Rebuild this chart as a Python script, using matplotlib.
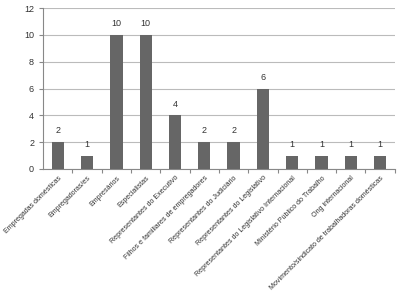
import matplotlib
matplotlib.use('Agg')
import matplotlib.pyplot as plt

plt.rcParams['font.family'] = ['Liberation Sans', 'DejaVu Sans']

# Categories and counts
categories = ['Empregadas domésticas', 'Empregadoras/es', 'Empresários', 'Especialistas',
              'Representantes do Executivo', 'Filhos e familiares de empregadores',
              'Representantes do Judiciário', 'Representantes do Legislativo',
              'Representantes do Legislativo Internacional', 'Ministério Público do Trabalho',
              'Ong internacional', 'Movimento/sindicato de trabalhadoras domésticas']
counts = [2, 1, 10, 10, 4, 2, 2, 6, 1, 1, 1, 1]

fig = plt.figure(figsize=(4.07, 2.99), dpi=100)
ax = fig.add_axes([0.106, 0.435, 0.864, 0.538])

x = range(len(categories))
bars = ax.bar(x, counts, width=0.42, color='#666666', zorder=3)
for xi, v in zip(x, counts):
    ax.text(xi, v + 0.5, str(v), ha='center', va='bottom', fontsize=6.5, color='#333333')

ax.set_xlim(-0.5, len(categories) - 0.5)
ax.set_ylim(0, 12)
ax.set_yticks(range(0, 13, 2))
ax.yaxis.grid(True, color='#bbbbbb', linewidth=0.8, zorder=0)
ax.set_xticks([i + 0.5 for i in range(len(categories))], minor=False)
ax.set_xticklabels([])
ax.set_xticks(list(x), minor=True)
ax.set_xticklabels(categories, minor=True, rotation=45, ha='right', rotation_mode='anchor',
                   fontsize=5.1, color='#333333')
ax.tick_params(axis='x', which='minor', length=0, pad=4)
ax.tick_params(axis='x', which='major', length=3, color='#888888', direction='out')
ax.tick_params(axis='y', labelsize=6.5, colors='#333333', length=3, color='#888888')
for s in ['top', 'right']:
    ax.spines[s].set_visible(False)
for s in ['left', 'bottom']:
    ax.spines[s].set_color('#888888')
    ax.spines[s].set_linewidth(0.8)

fig.savefig('out.png', dpi=100)
